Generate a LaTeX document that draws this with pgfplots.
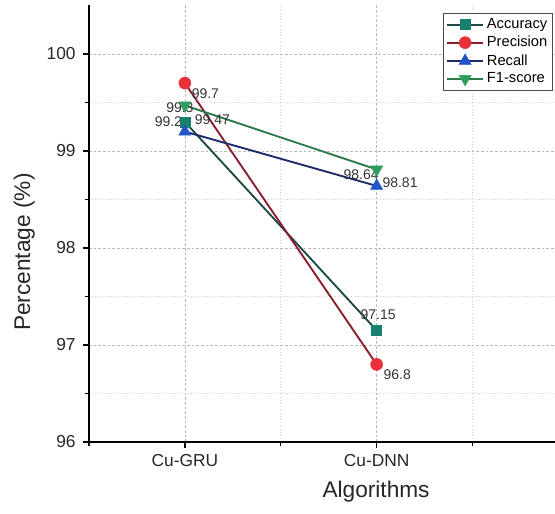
\documentclass[border=0pt]{standalone}
\usepackage{pgfplots}
\pgfplotsset{compat=1.18}
\usepackage{fontspec}
\setmainfont{Liberation Sans}
\definecolor{accM}{HTML}{17806F}
\definecolor{accL}{HTML}{1E4A44}
\definecolor{preM}{HTML}{E8313A}
\definecolor{preL}{HTML}{8A1C2C}
\definecolor{recM}{HTML}{2255C8}
\definecolor{recL}{HTML}{1C2A6A}
\definecolor{f1M}{HTML}{2E9E5E}
\definecolor{f1L}{HTML}{2A7A4A}
\definecolor{lab}{HTML}{333333}
\begin{document}
\begin{tikzpicture}
\useasboundingbox (-66.75pt,-53.25pt) rectangle (349.5pt,331.5pt);
\begin{axis}[
  at={(0,0)}, anchor=south west,
  scale only axis, width=349.5pt, height=327.375pt,
  xmin=0.5, xmax=2.93, ymin=96, ymax=100.5,
  axis x line=bottom, axis y line=left,
  axis line style={-, line width=1.4pt, black},
  xtick={1,2}, xticklabels={Cu-GRU,Cu-DNN},
  minor xtick={0.5,1.5,2.5},
  ytick={96,97,98,99,100},
  minor ytick={96.5,97.5,98.5,99.5},
  tick align=outside,
  major tick length=4.5pt, minor tick length=3pt,
  every tick/.style={black, line width=1pt},
  grid=both,
  major grid style={dash pattern=on 2pt off 1.5pt, gray!55, line width=0.5pt},
  minor grid style={dotted, gray!40, line width=0.5pt},
  tick label style={font=\fontsize{13}{15}\selectfont, text=black!85},
  /pgf/number format/assume math mode=true,
  yticklabel style={xshift=-2pt},
  xticklabel style={yshift=-1pt},
  xlabel={Algorithms}, ylabel={Percentage (\%)},
  label style={font=\fontsize{17}{19}\selectfont, text=black!85},
  xlabel style={at={(ticklabel cs:0.616)}, anchor=north, yshift=-4pt},
  ylabel style={at={(ticklabel cs:0.435)}, anchor=south, yshift=2pt},
  legend style={at={(0.9957,0.983)}, anchor=north east, draw=black!70, line width=0.6pt,
    font=\fontsize{11}{12}\selectfont, inner sep=2pt, row sep=0.2pt,
    cells={anchor=west}},
  legend image code/.code={\draw[mark repeat=2,mark phase=2] plot coordinates {(0cm,0cm) (0.48cm,0cm) (0.96cm,0cm)};},
  clip=false,
]
\addplot[accL, line width=1.4pt, mark=square*, mark size=3.8pt, mark options={fill=accM, draw=accM, line width=0.4pt}]
  coordinates {(1,99.3) (2,97.15)};
\addlegendentry{Accuracy}
\addplot[preL, line width=1.4pt, mark=*, mark size=4.5pt, mark options={fill=preM, draw=preM, line width=0.4pt}]
  coordinates {(1,99.7) (2,96.8)};
\addlegendentry{Precision}
\addplot[recL, line width=1.4pt, mark=triangle*, mark size=5.2pt, mark options={fill=recM, draw=recM, line width=0.4pt}]
  coordinates {(1,99.2) (2,98.64)};
\addlegendentry{Recall}
\addplot[f1L, line width=1.4pt, mark=triangle*, mark size=5.2pt, mark options={rotate=180, fill=f1M, draw=f1M, line width=0.4pt}]
  coordinates {(1,99.47) (2,98.81)};
\addlegendentry{F1-score}
\begin{scope}[every node/.style={font=\fontsize{10.5}{12}\selectfont, text=lab, inner sep=0pt}]
\node at (axis cs:1.107,99.588) {99.7};
\node at (axis cs:0.974,99.443) {99.3};
\node at (axis cs:0.914,99.299) {99.2};
\node at (axis cs:1.143,99.320) {99.47};
\node at (axis cs:1.919,98.753) {98.64};
\node at (axis cs:2.122,98.670) {98.81};
\node at (axis cs:2.008,97.309) {97.15};
\node at (axis cs:2.107,96.691) {96.8};
\end{scope}
\end{axis}
\end{tikzpicture}
\end{document}
